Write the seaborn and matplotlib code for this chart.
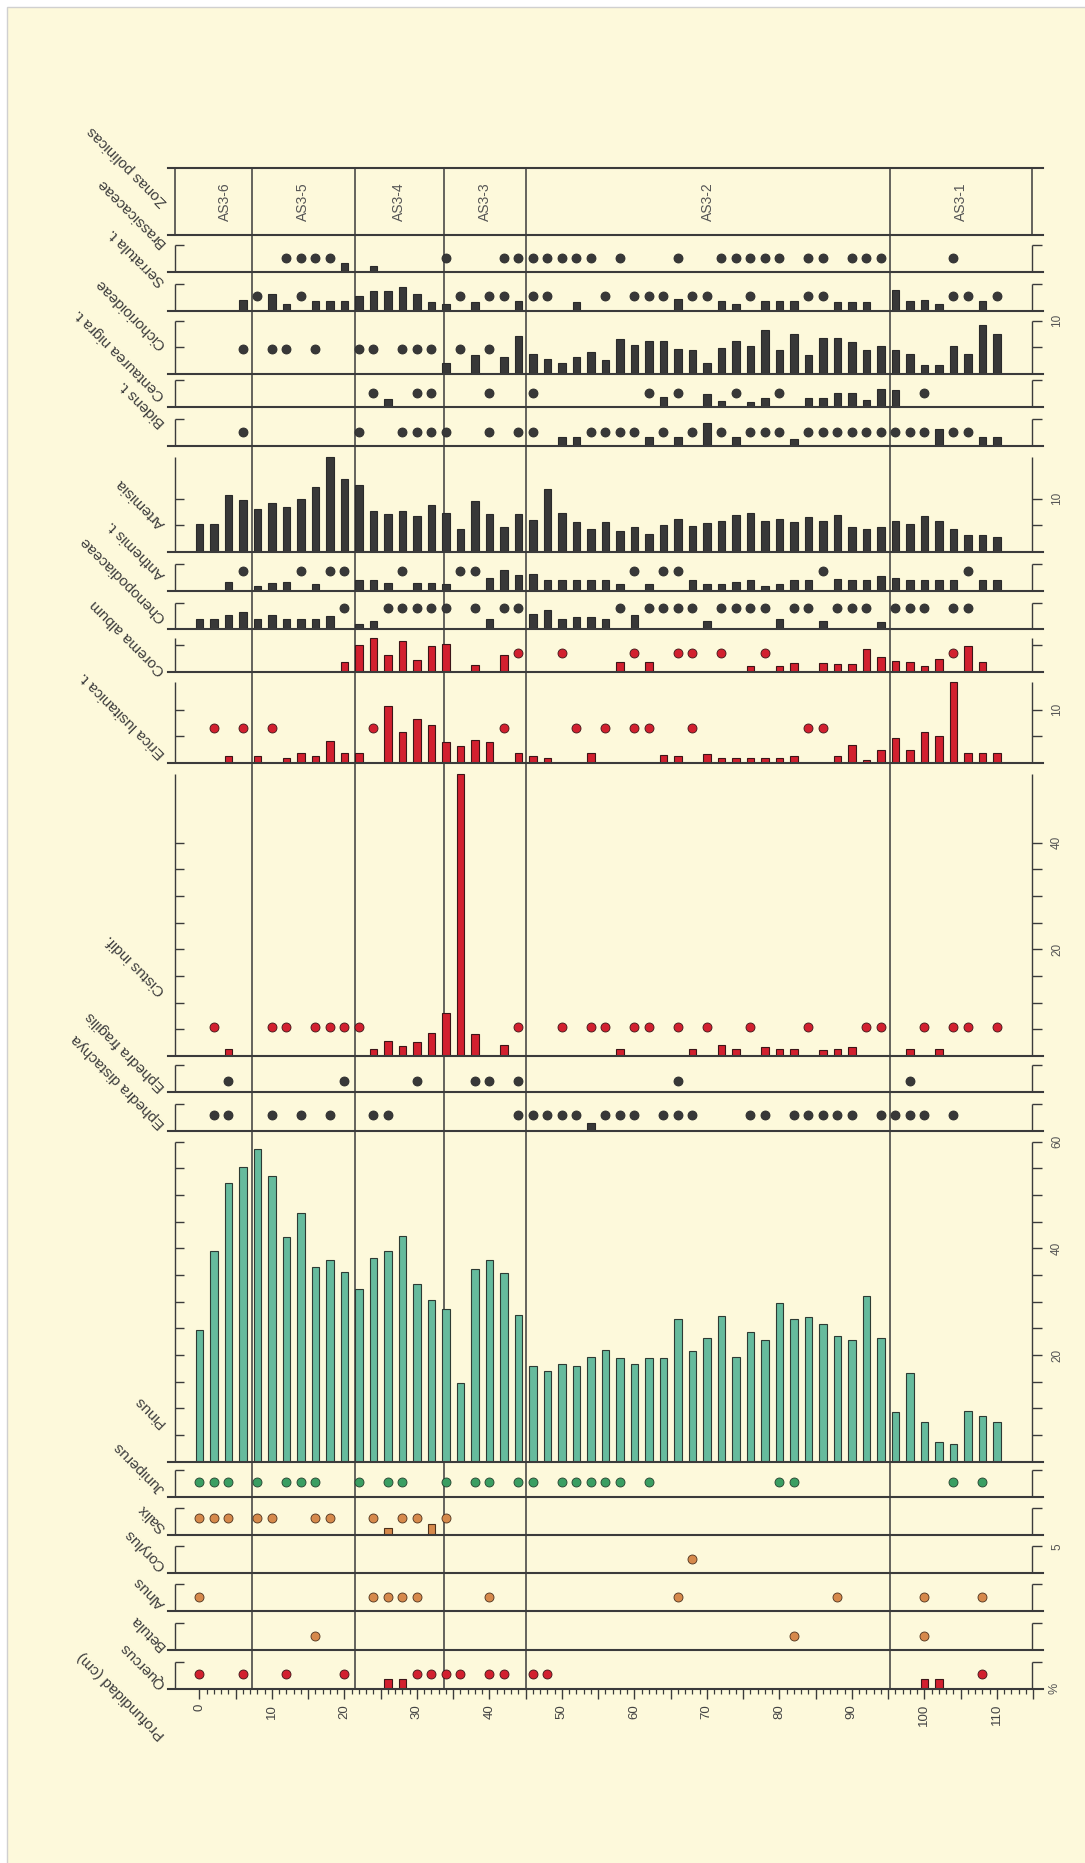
import numpy as np
import pandas as pd
import seaborn as sns
import matplotlib.pyplot as plt

# ---------------- datos (% de polen) ----------------
T = 0.1  # presencia < 1 %  -> se dibuja como punto
depths = list(range(0, 112, 2))  # profundidad (cm)

zone_names = ["AS3-6", "AS3-5", "AS3-4", "AS3-3", "AS3-2", "AS3-1"]
zone_limits = [7.2, 21.5, 33.7, 45.0, 95.2]

brassicaceae = {12: T, 14: T, 16: T, 18: T, 20: 1.7, 24: 1.2, 34: T, 42: T, 44: T, 46: T,
                48: T, 50: T, 52: T, 54: T, 58: T, 66: T, 72: T, 74: T, 76: T, 78: T,
                80: T, 84: T, 86: T, 90: T, 92: T, 94: T, 104: T}
serratula = [
    0, 0, 0, 2.0, T, 3.25, 1.25, T, 1.9, 1.9, 1.9, 2.9, 3.7, 3.8,
    4.5, 3.25, 1.6, 1.3, T, 1.6, T, T, 1.8, T, T, 0, 1.7, 0,
    T, 0, T, T, T, 2.25, T, T, 1.9, 1.3, T, 1.9, 1.9, 1.9,
    T, T, 1.6, 1.6, 1.6, 0, 3.9, 1.9, 2.1, 1.4, T, T, 1.9, T]
cichorioideae = [
    0, 0, 0, T, 0, T, T, 0, T, 0, 0, T, T, 0,
    T, T, T, 2.1, T, 3.5, T, 3.2, 7.2, 3.7, 2.8, 2.1, 3.2, 4.2,
    2.6, 6.6, 5.5, 6.25, 6.25, 4.7, 4.5, 2.1, 4.9, 6.25, 5.2, 8.3, 4.5, 7.5,
    3.5, 6.75, 6.75, 6.0, 4.5, 5.2, 4.5, 3.8, 1.6, 1.6, 5.2, 3.8, 9.2, 7.5]
centaurea = {24: T, 26: 1.5, 30: T, 32: T, 40: T, 46: T, 62: T, 64: 1.9, 66: T, 70: 2.4,
             72: 1.2, 74: T, 76: 0.9, 78: 1.7, 80: T, 84: 1.7, 86: 1.7, 88: 2.6, 90: 2.6,
             92: 1.4, 94: 3.4, 96: 3.25, 100: T}
bidens = [
    0, 0, 0, T, 0, 0, 0, 0, 0, 0, 0, T, 0, 0,
    T, T, T, T, 0, 0, T, 0, T, T, 0, 1.6, 1.6, T,
    T, T, T, 1.75, T, 1.6, T, 4.4, T, 1.6, T, T, T, 1.4,
    T, T, T, T, T, T, T, T, T, 3.1, T, T, 1.75, 1.75]
artemisia = [
    5.3, 5.3, 10.75, 9.7, 8.1, 9.2, 8.4, 9.9, 12.2, 17.8, 13.7, 12.5, 7.75, 7.1,
    7.75, 6.7, 8.75, 7.3, 4.25, 9.6, 7.1, 4.75, 7.1, 6.0, 11.75, 7.4, 5.6, 4.4,
    5.7, 4.0, 4.6, 3.4, 5.1, 6.2, 4.8, 5.4, 5.9, 7.0, 7.4, 5.75, 6.2, 5.6,
    6.6, 5.9, 7.0, 4.6, 4.3, 4.6, 5.9, 5.3, 6.7, 5.9, 4.4, 3.25, 3.1, 2.9]
anthemis = [
    0, 0, 1.6, T, 0.9, 1.4, 1.6, T, 1.25, T, T, 1.9, 1.9, 1.4,
    T, 1.4, 1.4, 1.3, T, T, 2.3, 3.9, 2.9, 3.1, 1.9, 1.9, 1.9, 1.9,
    1.9, 1.3, T, 1.25, T, T, 1.9, 1.25, 1.25, 1.6, 1.9, 0.9, 1.25, 1.9,
    1.9, T, 2.2, 1.9, 1.9, 2.7, 2.4, 1.9, 1.9, 1.9, 1.9, T, 1.9, 1.9]
chenopodiaceae = [
    2.0, 2.0, 2.75, 3.2, 2.0, 2.6, 2.0, 2.0, 2.0, 2.5, T, 1.0, 1.6, T,
    T, T, T, T, 0, T, 2.0, T, T, 2.9, 3.6, 2.0, 2.4, 2.4,
    2.0, T, 2.75, T, T, T, T, 1.5, T, T, T, T, 2.0, T,
    T, 1.6, T, T, T, 1.4, T, T, T, 0, T, T, 0, 0]
corema = [
    0, 0, 0, 0, 0, 0, 0, 0, 0, 0, 1.8, 5.1, 6.4, 3.25,
    5.9, 2.2, 4.8, 5.25, 0, 1.25, 0, 3.25, T, 0, 0, T, 0, 0,
    0, 1.8, T, 1.8, 0, T, T, 0, T, 0, 1.2, T, 1.2, 1.7,
    0, 1.7, 1.5, 1.5, 4.3, 2.9, 2.1, 1.8, 1.2, 2.4, T, 4.9, 1.8, 0]
erica = [
    0, T, 1.4, T, 1.4, T, 0.9, 1.9, 1.4, 4.1, 1.9, 1.9, T, 10.6,
    5.75, 8.25, 7.2, 3.9, 3.1, 4.4, 3.9, T, 1.9, 1.25, 0.9, 0, T, 1.9,
    T, 0, T, T, 1.5, 1.4, T, 1.6, 0.9, 0.9, 0.9, 0.9, 0.9, 1.3,
    T, T, 1.3, 3.4, 0.6, 2.4, 4.6, 2.4, 5.75, 5.1, 15.1, 1.9, 1.9, 1.9]
cistus = [
    0, T, 1.25, 0, 0, T, T, 0, T, T, T, T, 1.3, 2.8,
    1.9, 2.6, 4.4, 8.1, 52.9, 4.1, 0, 2.1, T, 0, 0, T, 0, T,
    T, 1.3, T, T, 0, T, 1.25, T, 2.1, 1.25, T, 1.6, 1.3, 1.3,
    T, 1.1, 1.3, 1.6, T, T, 0, 1.25, T, 1.25, T, T, 0, T]
ephedra_fragilis = {4: T, 20: T, 30: T, 38: T, 40: T, 44: T, 66: T, 98: T}
ephedra_distachya = {2: T, 4: T, 10: T, 14: T, 18: T, 24: T, 26: T, 44: T, 46: T, 48: T,
                     50: T, 52: T, 54: 1.5, 56: T, 58: T, 60: T, 64: T, 66: T, 68: T,
                     76: T, 78: T, 82: T, 84: T, 86: T, 88: T, 90: T, 94: T, 96: T,
                     98: T, 100: T, 104: T}
pinus = [
    24.7, 39.6, 52.2, 55.3, 58.6, 53.5, 42.2, 46.6, 36.6, 37.9, 35.5, 32.4, 38.2, 39.6,
    42.3, 33.4, 30.4, 28.6, 14.8, 36.1, 37.8, 35.3, 27.6, 17.9, 17.0, 18.4, 17.9, 19.6,
    20.9, 19.4, 18.4, 19.5, 19.4, 26.8, 20.75, 23.25, 27.4, 19.7, 24.4, 22.75, 29.75, 26.8,
    27.1, 25.9, 23.5, 22.8, 31.1, 23.25, 9.25, 16.7, 7.5, 3.75, 3.4, 9.5, 8.6, 7.4]
juniperus = {d: T for d in [0, 2, 4, 8, 12, 14, 16, 22, 26, 28, 34, 38, 40, 44, 46, 50, 52,
                            54, 56, 58, 62, 80, 82, 104, 108]}
salix = {0: T, 2: T, 4: T, 8: T, 10: T, 16: T, 18: T, 24: T, 26: 1.4, 28: T, 30: T,
         32: 2.0, 34: T}
corylus = {68: T}
alnus = {d: T for d in [0, 24, 26, 28, 30, 40, 66, 88, 100, 108]}
betula = {d: T for d in [16, 82, 100]}
quercus = {0: T, 6: T, 12: T, 20: T, 26: 1.9, 28: 1.9, 30: T, 32: T, 34: T, 36: T, 40: T,
           42: T, 46: T, 48: T, 100: 1.9, 102: 1.9, 108: T}

# ---------------- estilo ----------------
BG = "#fdf9db"
LINE = "#3b3b3b"
TXT = "#3d3d3d"
colors = {  # relleno, borde
    "herb": ("#383838", "#2a2a2a"),
    "red": ("#d2202f", "#3d1518"),
    "pinus": ("#66bb9d", "#2d3b34"),
    "juni": ("#3a9e62", "#24402e"),
    "tree": ("#d6894b", "#4d321d"),
}

# nombre, datos, color, alto del panel (px), nivel de los puntos (%),
# marcas con etiqueta (eje derecho), desplazamiento de la etiqueta (px)
panels = [
    ("Brassicaceae", brassicaceae, "herb", 37, 2.6, [], 30),
    ("Serratula t.", serratula, "herb", 39, 2.8, [], 30),
    ("Cichorioideae", cichorioideae, "herb", 63, 4.7, [10], 30),
    ("Centaurea nigra t.", centaurea, "herb", 33, 2.6, [], 12),
    ("Bidens t.", bidens, "herb", 39, 2.6, [], 24),
    ("Artemisia", artemisia, "herb", 106, 0, [10], 29),
    ("Anthemis t.", anthemis, "herb", 38.5, 3.75, [], 16),
    ("Chenopodiaceae", chenopodiaceae, "herb", 38.8, 4.0, [], 12),
    ("Corema album", corema, "red", 42.7, 3.6, [], 2),
    ("Erica lusitanica t.", erica, "red", 91, 6.6, [10], 10),
    ("Cistus indif.", cistus, "red", 293, 5.5, [20, 40], 66),
    ("Ephedra fragilis", ephedra_fragilis, "herb", 36, 2.1, [], 6),
    ("Ephedra distachya", ephedra_distachya, "herb", 38.7, 2.9, [], 8),
    ("Pinus", pinus, "pinus", 331, 0, [20, 40, 60], 40),
    ("Juniperus", juniperus, "juni", 35.3, 2.9, [], 9),
    ("Salix", salix, "tree", 38, 3.1, [], 8),
    ("Corylus", corylus, "tree", 38, 2.6, [5], 8),
    ("Alnus", alnus, "tree", 38, 2.6, [], 8),
    ("Betula", betula, "tree", 39, 2.7, [], 5),
    ("Quercus", quercus, "red", 38.7, 2.75, [], 6),
]

sns.set_theme(style="white")
plt.rcParams["font.family"] = ["Liberation Sans", "DejaVu Sans"]

W, H = 1085, 1863
PX = 5.333            # px por 1 %
X0, XS = 199.3, 7.25  # px de la profundidad 0, px por cm
LEFT, RIGHT, TOP = 168, 1043, 168
ZONE_H = 67


def depth_of(px):
    return (px - X0) / XS


xl, xr = depth_of(175), depth_of(1032)

fig = plt.figure(figsize=(W / 100, H / 100), dpi=100)
fig.patch.set_facecolor("white")
fig.add_artist(plt.Rectangle((7 / W, -0.01), 1.0, 1.01 - 7 / H, transform=fig.transFigure,
                             facecolor=BG, edgecolor="#d0d0d0", lw=1.0, zorder=-10))


def make_axes(y_top, h):
    ax = fig.add_axes([LEFT / W, 1 - (y_top + h) / H, (RIGHT - LEFT) / W, h / H])
    ax.set_facecolor("none")
    ax.set_xlim(depth_of(LEFT), depth_of(RIGHT))
    ax.set_ylim(0, h / PX)
    for s in ["top", "left", "right"]:
        ax.spines[s].set_visible(False)
    ax.spines["bottom"].set_color(LINE)
    ax.spines["bottom"].set_linewidth(1.5)
    for z in zone_limits:
        ax.axvline(z, color=LINE, lw=1.1, zorder=0.5)
    return ax


def label(text, x_px, y_px, **kw):
    fig.text(x_px / W, 1 - y_px / H, text, rotation=135, rotation_mode="anchor",
             ha="left", va="baseline", fontsize=11, color=TXT, **kw)


# panel de zonas
ax = make_axes(TOP, ZONE_H)
ax.spines["top"].set_visible(True)
ax.spines["top"].set_color(LINE)
ax.spines["top"].set_linewidth(1.5)
ax.axvline(xl, color=LINE, lw=1.1)
ax.axvline(xr, color=LINE, lw=1.1)
bounds = [0] + zone_limits + [xr]
for i, name in enumerate(zone_names):
    ax.text((bounds[i] + bounds[i + 1]) / 2, ZONE_H / PX / 2, name, rotation=90,
            ha="center", va="center", fontsize=10, color="#555555")
ax.set_xticks([])
ax.set_yticks([])
label("Zonas polínicas", 168, TOP + ZONE_H - 34)

y = TOP + ZONE_H
for i, (name, data, kind, h, level, labelled, ldy) in enumerate(panels):
    ax = make_axes(y, h)
    vals = [data.get(d, 0) for d in depths] if isinstance(data, dict) else data
    df = pd.DataFrame({"depth": depths, "pct": vals})
    fill, edge = colors[kind]

    df["bar"] = df["pct"].where(df["pct"] >= 0.5, 0)
    if df["bar"].max() > 0:
        sns.barplot(data=df, x="depth", y="bar", native_scale=True, width=0.52,
                    color=fill, edgecolor=edge, linewidth=0.8, saturation=1,
                    errorbar=None, ax=ax)
    tr = df[(df["pct"] > 0) & (df["pct"] < 0.5)]
    if len(tr):
        sns.scatterplot(x=tr["depth"].values, y=np.full(len(tr), level), s=42,
                        color=fill, edgecolor=edge, linewidth=0.6, ax=ax,
                        legend=False, zorder=3)

    # ejes de escala a ambos lados
    tick_top = max([5] + labelled)
    ticks = list(range(5, int(tick_top) + 1, 5))
    top = max(tick_top, max(vals))
    for xs, tl in [(xl, 9 / XS), (xr, 10 / XS)]:
        ax.plot([xs, xs], [0, top], color=LINE, lw=1.0, solid_capstyle="butt")
        for t in ticks:
            ax.plot([xs, xs + tl], [t, t], color=LINE, lw=1.0, solid_capstyle="butt")
    for t in labelled:
        ax.text(depth_of(1057), t, str(t), rotation=90, ha="center", va="center",
                fontsize=8.5, color="#555555", clip_on=False)

    ax.set_xlabel("")
    ax.set_ylabel("")
    ax.set_yticks([])
    if i < len(panels) - 1:
        ax.set_xticks([])
    label(name, 166, y + h - ldy)
    y += h

# eje de profundidad
ax.set_xticks(range(0, 116, 5))
ax.set_xticklabels([str(d) if d % 10 == 0 else "" for d in range(0, 116, 5)],
                   rotation=90, fontsize=9.5, color="#444444")
ax.set_xticks(range(0, 116), minor=True)
ax.tick_params(axis="x", which="major", direction="out", length=7, width=1.0,
               color=LINE, bottom=True, pad=4)
ax.tick_params(axis="x", which="minor", direction="out", length=3.5, width=0.9,
               color=LINE, bottom=True)
ax.text(depth_of(1055), 0, "%", rotation=90, ha="center", va="center",
        fontsize=9, color="#555555", clip_on=False)
label("Profundidad (cm)", 166, y + 45)

fig.savefig("out.png", dpi=100, facecolor=fig.get_facecolor())
